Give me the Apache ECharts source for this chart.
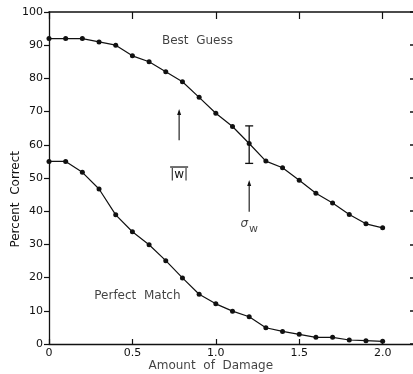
<!DOCTYPE html>
<html><head><meta charset="utf-8">
<script src="https://cdn.jsdelivr.net/npm/echarts@6/dist/echarts.min.js"></script>
<style>html,body{margin:0;padding:0;background:#fff}#c{width:413px;height:374px}</style>
</head><body><div id="c"></div>
<script>
const damage = [0,0.1,0.2,0.3,0.4,0.5,0.6,0.7,0.8,0.9,1.0,1.1,1.2,1.3,1.4,1.5,1.6,1.7,1.8,1.9,2.0];
const bestGuess = [92,92,92,91,90,86.8,85,82,79,74.3,69.5,65.5,60.4,55.1,53.1,49.3,45.4,42.5,39,36.2,35];
const perfectMatch = [55,55,51.7,46.7,38.9,33.8,29.9,25.1,19.9,15,12.1,9.9,8.2,4.9,3.8,2.9,2,2,1.2,1,0.8];
// error bar: [x, low, high]
const errorBar = [[1.2, 54.4, 65.7]];
// arrows: [x, yFrom, yTo]
const arrows = [[0.78, 61.4, 70.8], [1.2, 39.8, 49.4]];
const xTicks = ['0','0.5','1.0','1.5','2.0'];

const FONT = 'DejaVu Sans';
const INK = '#111';
const chart = echarts.init(document.getElementById('c'), null, {renderer:'canvas'});
const zip = (xs, ys) => xs.map((x,i)=>[x, ys[i]]);

const axisCommon = {
  type:'value', splitLine:{show:false},
  axisLine:{show:true, onZero:false, lineStyle:{color:INK, width:1.3}},
  axisTick:{show:true, inside:true, length:5, lineStyle:{color:INK, width:1.2}}
};

chart.setOption({
  animation:false,
  grid:{left:49, width:367, top:12, bottom:30, containLabel:false, outerBoundsMode:'none'},
  xAxis:[
    Object.assign({}, axisCommon, {min:0, max:2.2, interval:0.5, position:'bottom',
      axisLabel:{color:INK, fontFamily:FONT, fontSize:11, margin:4, showMaxLabel:false,
        formatter:(v)=>{const i=Math.round(v/0.5); return (Math.abs(v-i*0.5)<1e-6 && i<xTicks.length)?xTicks[i]:'';}}}),
    Object.assign({}, axisCommon, {min:0, max:2.2, interval:0.5, position:'top', axisLabel:{show:false},
      axisTick:{show:true, inside:true, length:7, lineStyle:{color:INK, width:1.2}},
      axisLine:{show:true, onZero:false, lineStyle:{color:INK, width:1.6}}})
  ],
  yAxis:[
    Object.assign({}, axisCommon, {min:0, max:100, interval:10, position:'left',
      axisTick:{show:true, inside:false, length:5, lineStyle:{color:INK, width:1.2}},
      axisLabel:{color:INK, fontFamily:FONT, fontSize:11, margin:6}}),
    Object.assign({}, axisCommon, {min:0, max:100, interval:10, position:'right', axisLabel:{show:false},
      axisTick:{show:true, inside:true, length:6, lineStyle:{color:INK, width:1.5}}})
  ],
  graphic:[
    {type:'text', left:10, top:151, rotation:Math.PI/2, originX:0, originY:0,
     style:{text:'Percent  Correct', fill:INK, font:'12px "'+FONT+'"'}, x:0, y:0}
  ],
  series:[
    {type:'line', data:zip(damage,bestGuess), symbol:'circle', symbolSize:5,
     itemStyle:{color:INK}, lineStyle:{color:INK, width:1.2}, z:3},
    {type:'line', data:zip(damage,perfectMatch), symbol:'circle', symbolSize:5,
     itemStyle:{color:INK}, lineStyle:{color:INK, width:1.2}, z:3},
    {type:'custom', data:errorBar, renderItem:(params, api)=>{
      const top = api.coord([api.value(0), api.value(2)]);
      const bot = api.coord([api.value(0), api.value(1)]);
      const w = 4;
      const st = {stroke:INK, lineWidth:1.3};
      return {type:'group', children:[
        {type:'line', shape:{x1:top[0], y1:top[1], x2:bot[0], y2:bot[1]}, style:st},
        {type:'line', shape:{x1:top[0]-w, y1:top[1], x2:top[0]+w, y2:top[1]}, style:st},
        {type:'line', shape:{x1:bot[0]-w, y1:bot[1], x2:bot[0]+w, y2:bot[1]}, style:st}
      ]};
    }},
    {type:'custom', data:arrows, renderItem:(params, api)=>{
      const a = api.coord([api.value(0), api.value(1)]);
      const b = api.coord([api.value(0), api.value(2)]);
      return {type:'group', children:[
        {type:'line', shape:{x1:a[0], y1:a[1], x2:b[0], y2:b[1]+3}, style:{stroke:INK, lineWidth:1.1}},
        {type:'polygon', shape:{points:[[b[0],b[1]],[b[0]-2,b[1]+6],[b[0]+2,b[1]+6]]}, style:{fill:INK}}
      ]};
    }},
    {type:'custom', data:[[0.78, 50.9]], renderItem:(params, api)=>{
      const p = api.coord([api.value(0), api.value(1)]);
      return {type:'group', children:[
        {type:'text', x:p[0], y:p[1], style:{text:'|w|', fill:INK, font:'12px "'+FONT+'"', align:'center', verticalAlign:'middle'}},
        {type:'line', shape:{x1:p[0]-9, y1:p[1]-8, x2:p[0]+9, y2:p[1]-8}, style:{stroke:INK, lineWidth:1.2}}
      ]};
    }},
    {type:'scatter', symbolSize:0, silent:true, clip:false, data:[
      {value:[1.2, 35.6], label:{show:true, position:'inside', formatter:'{s|σ}{w|w}',
        rich:{s:{fontFamily:FONT, fontSize:12, fontStyle:'italic', color:INK, padding:[0,0,4,0]},
              w:{fontFamily:FONT, fontSize:11, color:INK, padding:[6,0,0,1]}}}},
      {value:[0.89, 91.3], label:{show:true, position:'inside', formatter:'Best  Guess', fontFamily:FONT, fontSize:12, color:INK}},
      {value:[0.53, 14.5], label:{show:true, position:'inside', formatter:'Perfect  Match', fontFamily:FONT, fontSize:12, color:INK}},
      {value:[0.97, -6.7], label:{show:true, position:'inside', formatter:'Amount  of  Damage', fontFamily:FONT, fontSize:12, color:INK}}
    ]}
  ]
});
</script></body></html>
